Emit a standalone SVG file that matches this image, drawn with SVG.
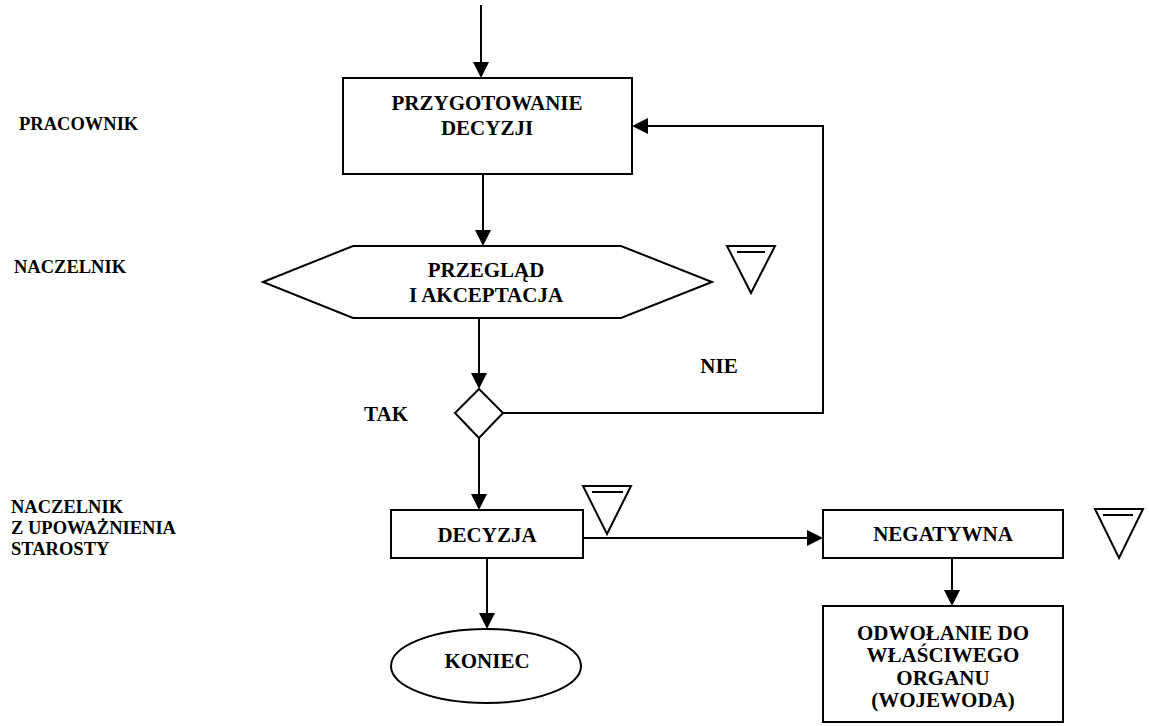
<svg xmlns="http://www.w3.org/2000/svg" width="1149" height="726" viewBox="0 0 1149 726">
<style>
.s{fill:#fff;stroke:#000;stroke-width:2}
.c{fill:none;stroke:#000;stroke-width:2}
.t{font-family:"Liberation Serif","Times New Roman",serif;font-weight:bold;font-size:21px;fill:#000;text-anchor:middle}
.l{font-family:"Liberation Serif","Times New Roman",serif;font-weight:bold;font-size:18.5px;fill:#000}
</style>
<defs>
<marker id="ah" markerUnits="userSpaceOnUse" markerWidth="16" markerHeight="16" refX="14" refY="8" orient="auto" viewBox="0 0 16 16">
<path d="M0,0 L16,8 L0,16 z" fill="#000"/>
</marker>
</defs>
<rect width="1149" height="726" fill="#fff"/>
<g id="connectors">
<path class="c" d="M481,5 V76" marker-end="url(#ah)"/>
<path class="c" d="M483,174 V244" marker-end="url(#ah)"/>
<path class="c" d="M479,318 V387" marker-end="url(#ah)"/>
<path class="c" d="M503,413 H823 V126 H634" marker-end="url(#ah)"/>
<path class="c" d="M479,438 V508" marker-end="url(#ah)"/>
<path class="c" d="M583,538 H821" marker-end="url(#ah)"/>
<path class="c" d="M952,558 V604" marker-end="url(#ah)"/>
<path class="c" d="M487,558 V627" marker-end="url(#ah)"/>
</g>
<g id="labels">
<text class="l" x="19" y="130">PRACOWNIK</text>
<text class="l" x="14" y="273">NACZELNIK</text>
<text class="l" x="11" y="513">NACZELNIK</text>
<text class="l" x="11" y="534">Z UPOWAŻNIENIA</text>
<text class="l" x="11" y="555">STAROSTY</text>
<text class="t" x="719" y="373">NIE</text>
<text class="t" x="386" y="421">TAK</text>
</g>
<g id="przygotowanie">
<rect class="s" x="343" y="78" width="289" height="96"/>
<text class="t" x="487" y="110">PRZYGOTOWANIE</text>
<text class="t" x="487" y="135">DECYZJI</text>
</g>
<g id="przeglad">
<polygon class="s" points="263,282 353,246 621,246 712,282 621,318 353,318"/>
<text class="t" x="486" y="277">PRZEGLĄD</text>
<text class="t" x="486" y="302">I AKCEPTACJA</text>
</g>
<g id="tri1">
<polygon class="s" points="727,246 775,246 751,293"/>
<line class="c" x1="737" y1="252" x2="765" y2="252"/>
</g>
<g id="decision">
<polygon class="s" points="479,389 503,413 479,438 455,413"/>
</g>
<g id="decyzja">
<rect class="s" x="391" y="510" width="192" height="48"/>
<text class="t" x="487" y="542">DECYZJA</text>
</g>
<g id="tri2">
<polygon class="s" points="583,486 631,486 607,534"/>
<line class="c" x1="592" y1="492" x2="623" y2="492"/>
</g>
<g id="negatywna">
<rect class="s" x="823" y="510" width="240" height="48"/>
<text class="t" x="943" y="541">NEGATYWNA</text>
</g>
<g id="tri3">
<polygon class="s" points="1095,509 1143,509 1119,558"/>
<line class="c" x1="1103" y1="515" x2="1133" y2="515"/>
</g>
<g id="odwolanie">
<rect class="s" x="823" y="606" width="240" height="116"/>
<text class="t" x="943" y="640">ODWOŁANIE DO</text>
<text class="t" x="943" y="662">WŁAŚCIWEGO</text>
<text class="t" x="943" y="685">ORGANU</text>
<text class="t" x="943" y="707">(WOJEWODA)</text>
</g>
<g id="koniec">
<ellipse class="s" cx="486" cy="666" rx="95" ry="37"/>
<text class="t" x="487" y="668">KONIEC</text>
</g>
</svg>
